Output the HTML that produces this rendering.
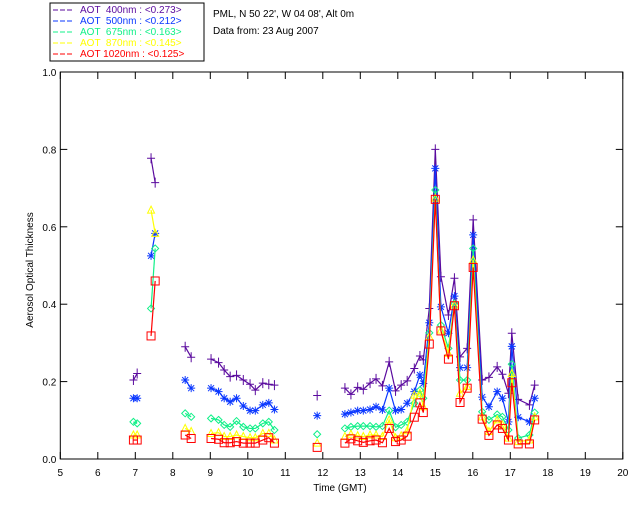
<!DOCTYPE html>
<html><head><meta charset="utf-8"><style>
body{margin:0;background:#fff;width:640px;height:512px;overflow:hidden;font-family:"Liberation Sans",sans-serif}
svg text{font-family:"Liberation Sans",sans-serif;font-size:10px;white-space:pre}
</style></head><body>
<svg id="chart" width="640" height="512">
<rect x="50" y="3" width="154" height="58" fill="#fff" stroke="#000" stroke-width="1"/>
<text x="213" y="17">PML, N 50 22', W 04 08', Alt 0m</text>
<text x="213" y="34">Data from: 23 Aug 2007</text>
<text x="340" y="491" text-anchor="middle">Time (GMT)</text>
<text x="0" y="0" text-anchor="middle" transform="translate(33,270) rotate(-90)">Aerosol Optical Thickness</text>
<g id="axes"></g><g id="plot"></g><g id="legend"></g>
</svg>
<script>
const times=[6.95,7.05, 7.42,7.53, 8.33,8.49, 9.02,9.22,9.37,9.53,9.70,9.88,10.06,10.20,10.40,10.56,10.71, 11.85,
12.59,12.75,12.93,13.08,13.26,13.42,13.59,13.77,13.94,14.09,14.25,14.44,14.59,14.68,14.84,15.0,15.15,15.35,15.51,15.66,15.85,16.01,16.25,16.43,16.65,16.79,16.95,17.04,17.21,17.51,17.65];
const segmentStarts=[0,2,4,6,17,18];
const aot400=[0.204,0.221, 0.777,0.714, 0.290,0.263, 0.258,0.249,0.230,0.213,0.216,0.204,0.193,0.178,0.196,0.193,0.191, 0.164,
0.183,0.167,0.185,0.180,0.196,0.207,0.189,0.251,0.176,0.191,0.202,0.234,0.266,0.256,0.389,0.800,0.471,0.372,0.467,0.264,0.286,0.618,0.204,0.211,0.238,0.219,0.170,0.325,0.154,0.140,0.191];
const aot500=[0.157,0.157, 0.525,0.583, 0.204,0.183, 0.183,0.174,0.157,0.148,0.157,0.137,0.125,0.125,0.140,0.145,0.128, 0.112,
0.116,0.120,0.125,0.125,0.128,0.135,0.127,0.183,0.125,0.128,0.144,0.174,0.217,0.195,0.352,0.751,0.393,0.325,0.421,0.236,0.236,0.579,0.160,0.135,0.174,0.157,0.096,0.291,0.108,0.096,0.157];
const aot675=[0.096,0.092, 0.389,0.544, 0.118,0.109, 0.105,0.101,0.088,0.083,0.098,0.083,0.079,0.079,0.092,0.096,0.075, 0.064,
0.079,0.083,0.085,0.085,0.085,0.083,0.085,0.125,0.082,0.088,0.096,0.144,0.178,0.157,0.326,0.695,0.346,0.286,0.402,0.204,0.204,0.544,0.122,0.101,0.115,0.109,0.075,0.245,0.054,0.062,0.120];
const aot870=[0.062,0.062, 0.643,0.583, 0.079,0.071, 0.066,0.068,0.058,0.058,0.062,0.058,0.055,0.055,0.066,0.066,0.049, 0.041,
0.058,0.064,0.060,0.058,0.062,0.062,0.058,0.101,0.055,0.060,0.073,0.165,0.170,0.135,0.316,0.674,0.333,0.273,0.398,0.170,0.187,0.514,0.109,0.071,0.101,0.088,0.054,0.221,0.045,0.049,0.109];
const aot1020=[0.049,0.049, 0.318,0.460, 0.062,0.053, 0.053,0.051,0.042,0.042,0.045,0.041,0.041,0.041,0.049,0.055,0.041, 0.030,
0.041,0.052,0.047,0.043,0.047,0.049,0.042,0.079,0.045,0.049,0.059,0.108,0.145,0.120,0.297,0.671,0.331,0.258,0.396,0.146,0.183,0.495,0.103,0.061,0.088,0.079,0.049,0.197,0.039,0.039,0.101];
const xTicks=[5,6,7,8,9,10,11,12,13,14,15,16,17,18,19,20];
const yTicks=[0.0,0.2,0.4,0.6,0.8,1.0];
const yTickLabels=["0.0","0.2","0.4","0.6","0.8","1.0"];
const legendLabels=["AOT  400nm : <0.273>","AOT  500nm : <0.212>","AOT  675nm : <0.163>","AOT  870nm : <0.145>","AOT 1020nm : <0.125>"];

const NS="http://www.w3.org/2000/svg";
const L=60.3,R=622.8,T=72,B=459;
const xs=t=>L+(t-5)*(R-L)/15;
const ys=v=>B-v*(B-T);
function mk(tag,attrs,parent){const e=document.createElementNS(NS,tag);for(const k in attrs)e.setAttribute(k,attrs[k]);parent.appendChild(e);return e;}
const axes=document.getElementById('axes'),plot=document.getElementById('plot'),leg=document.getElementById('legend');
const frame=mk('rect',{x:L,y:T,width:R-L,height:B-T,fill:'none',stroke:'#000','stroke-width':1},axes);


xTicks.forEach(t=>{
  const x=xs(t);
  mk('line',{x1:x,x2:x,y1:B,y2:B-7,stroke:'#000'},axes);
  mk('line',{x1:x,x2:x,y1:T,y2:T+7,stroke:'#000'},axes);
  const tx=mk('text',{x:x,y:B+17,'text-anchor':'middle'},axes);
  tx.textContent=t;
  
  
});
yTicks.forEach((v,i)=>{
  const y=ys(v);
  mk('line',{x1:L,x2:L+7,y1:y,y2:y,stroke:'#000'},axes);
  mk('line',{x1:R,x2:R-7,y1:y,y2:y,stroke:'#000'},axes);
  const tx=mk('text',{x:L-4,y:y+4,'text-anchor':'end'},axes);
  tx.textContent=yTickLabels[i];
  
  
});
const series=[[aot400,'#5a0a9e','plus'],[aot500,'#0a37ff','star'],[aot675,'#10f088','diamond'],[aot870,'#ffff00','tri'],[aot1020,'#ff0000','square']];
function marker(kind,x,y,c,g){
  const s={stroke:c,'stroke-width':1,fill:'none'};
  if(kind==='plus'){mk('path',Object.assign({d:`M${x-4},${y}H${x+4}M${x},${y-5}V${y+5}`},s),g);}
  else if(kind==='star'){mk('path',Object.assign({d:`M${x-4},${y}H${x+4}M${x},${y-4}V${y+4}M${x-3},${y-3}L${x+3},${y+3}M${x-3},${y+3}L${x+3},${y-3}`,'stroke-width':1.5},s),g);}
  else if(kind==='diamond'){mk('path',Object.assign({d:`M${x},${y-3.5}L${x+3.5},${y}L${x},${y+3.5}L${x-3.5},${y}Z`},s),g);}
  else if(kind==='tri'){mk('path',Object.assign({d:`M${x},${y-4}L${x+3.5},${y+3}L${x-3.5},${y+3}Z`},s),g);}
  else {mk('rect',Object.assign({x:x-4,y:y-4,width:8,height:8,'stroke-width':1.3},s),g);}
}
series.forEach((sr,si)=>{
  const [vals,c,kind]=sr;
  const g=mk('g',{},plot);
  
  
  segmentStarts.forEach((st,k)=>{
    const en=k+1<segmentStarts.length?segmentStarts[k+1]:times.length;
    const pts=[];for(let i=st;i<en;i++)pts.push(xs(times[i])+','+ys(vals[i]));
    if(pts.length>1){const pl=mk('polyline',{points:pts.join(' '),fill:'none',stroke:c,'stroke-width':1.2},g);
      
      }
  });
  times.forEach((t,i)=>marker(kind,xs(t),ys(vals[i]),c,g));
});
legendLabels.forEach((lab,i)=>{
  const c=series[i][1];const y=13+i*11;
  mk('line',{x1:53,x2:74,y1:y-3,y2:y-3,stroke:c,'stroke-dasharray':'5,2'},leg);
  const tx=mk('text',{x:80,y:y,fill:c},leg);
  tx.textContent=lab;
  
  
});
</script>
</body></html>
